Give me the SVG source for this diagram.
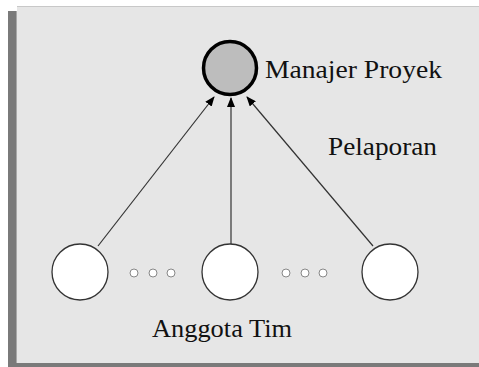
<svg xmlns="http://www.w3.org/2000/svg" width="479" height="367" viewBox="0 0 479 367">
<style>
.lbl{font-family:"Liberation Serif","Times New Roman",serif;font-size:26px;fill:#111}
.member{fill:#fff;stroke:#333;stroke-width:1.3}
.dot{fill:#fff;stroke:#888;stroke-width:1}
.conn{stroke:#333;stroke-width:1.2;fill:none;marker-end:url(#ah)}
</style>
<defs>
<marker id="ah" markerWidth="10" markerHeight="8" refX="9" refY="4" orient="auto" markerUnits="userSpaceOnUse">
<path d="M0,0 L10,4 L0,8 Z" fill="#000"/>
</marker>
</defs>
<rect x="0" y="0" width="479" height="367" fill="#fff"/>
<rect x="8" y="11" width="471" height="356" fill="#7a7a7a"/>
<rect x="17" y="6" width="462" height="357" fill="#e6e6e6"/>
<line x1="17" y1="6.5" x2="479" y2="6.5" stroke="#c8c8c8" stroke-width="1"/>
<line x1="16.5" y1="11" x2="16.5" y2="363" stroke="#a8a8a8" stroke-width="1"/>
<g id="connectors">
<line class="conn" x1="98" y1="246" x2="214" y2="97"/>
<line class="conn" x1="231" y1="244" x2="231" y2="98"/>
<line class="conn" x1="373" y1="246" x2="247" y2="97"/>
</g>
<g id="manajer">
<circle cx="230" cy="68" r="26.5" fill="#bdbdbd" stroke="#000" stroke-width="3.5"/>
<text class="lbl" x="265" y="78" textLength="177" lengthAdjust="spacingAndGlyphs">Manajer Proyek</text>
</g>
<g id="pelaporan">
<text class="lbl" x="328" y="155" textLength="109" lengthAdjust="spacingAndGlyphs">Pelaporan</text>
</g>
<g id="anggota1"><circle class="member" cx="80" cy="272" r="28"/></g>
<g id="anggota2"><circle class="member" cx="230" cy="272" r="28"/></g>
<g id="anggota3"><circle class="member" cx="390" cy="272" r="28"/></g>
<g id="dots-left">
<circle class="dot" cx="134" cy="273" r="4"/>
<circle class="dot" cx="153" cy="273" r="4"/>
<circle class="dot" cx="171" cy="273" r="4"/>
</g>
<g id="dots-right">
<circle class="dot" cx="286" cy="273" r="4"/>
<circle class="dot" cx="305" cy="273" r="4"/>
<circle class="dot" cx="323" cy="273" r="4"/>
</g>
<g id="anggota-label">
<text class="lbl" x="152" y="337" textLength="140" lengthAdjust="spacingAndGlyphs">Anggota Tim</text>
</g>
</svg>
